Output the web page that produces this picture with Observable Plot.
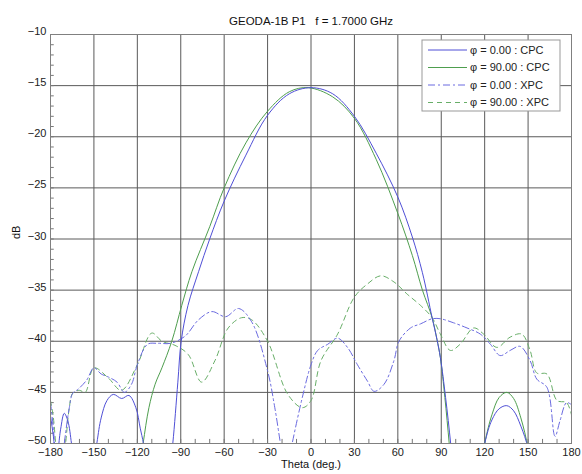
<!DOCTYPE html>
<html>
<head>
<meta charset="utf-8">
<script src="https://cdn.jsdelivr.net/npm/d3@7"></script>
<script src="https://cdn.jsdelivr.net/npm/@observablehq/plot@0.6"></script>
<style>
  body { margin: 0; background: #fff; }
  svg { display: block; }
</style>
</head>
<body>
<div id="chart"></div>
<script>
const chartTitle = "GEODA-1B P1\u00a0\u00a0 f = 1.7000 GHz";
const xLabel = "Theta (deg.)";
const yLabel = "dB";
const xTicks = [-180, -150, -120, -90, -60, -30, 0, 30, 60, 90, 120, 150, 180];
const yTicks = [-50, -45, -40, -35, -30, -25, -20, -15, -10];
const seriesNames = ["\u03c6 = 0.00 : CPC", "\u03c6 = 90.00 : CPC", "\u03c6 = 0.00 : XPC", "\u03c6 = 90.00 : XPC"];

// phi = 0 CPC
const theta0CPC = [-180,-178,-176,-173,-170.5,-168,-165.5,-163,-156,-148,-145,-141,-136.6,-130.8,-125.8,-121,-118,-115.8,-113,-105,-98,-95.5,-92,-89.7,-85,-77.7,-70,-60,-45,-30,-15,0,15,30,45,60,70,77,83.7,87,89.4,93,96.5,99,110,120,125,130,135.3,140,145,150,153,165,180];
const dB0CPC = [-47.3,-49.3,-51.8,-48.6,-47.05,-47.8,-50,-53,-58,-50,-47.5,-45.8,-45.2,-45.6,-45.3,-46.5,-48.5,-50,-53,-58,-53,-50,-44,-40,-36.5,-33.2,-30.0,-26.3,-21.8,-17.9,-15.8,-15.2,-15.8,-18.0,-21.6,-25.9,-29.8,-33.3,-37.7,-39.8,-41.6,-45.5,-50,-54,-58,-50,-47.7,-46.6,-46.3,-46.8,-48.3,-50.5,-54,-58,-58];

// phi = 90 CPC
const theta90CPC = [-180,-130,-119,-116,-112,-107.7,-103,-96.2,-89.3,-82.3,-70,-60,-45,-30,-15,-2,15,30,45,60,70,77,83.7,87,89.4,92.5,95.5,98,110,120,125,130,135.3,140,145,150,153,165,180];
const dB90CPC = [-58,-58,-53,-50,-46.5,-44.2,-42.6,-40,-36.5,-33.2,-28.8,-25,-20.6,-17.5,-15.6,-15.2,-16.1,-18.2,-22.2,-27.5,-31.6,-35,-37.7,-39.8,-41.6,-45.5,-50,-54,-58,-50,-47.2,-45.5,-45.0,-45.6,-47.5,-50.5,-54,-58,-58];

// phi = 0 XPC
const theta0XPC = [-180,-178,-176,-173,-170.5,-167,-164.7,-161,-155,-150,-145,-140,-134,-129,-124,-120,-113,-106,-97,-87,-77.7,-68.5,-59,-50,-41,-30,-25,-20.5,-17,-13,-6,0,4.6,11.5,18.4,25.2,32.1,39,43.6,50.5,57.3,60.8,68.8,75.7,83.7,89.4,98.6,107.8,117,124,130.7,137.6,144.5,151.4,156,163,168.6,172,176.6,180];
const dB0XPC = [-46.0,-48.5,-52,-53,-50,-46.5,-45.1,-44.7,-43.8,-42.6,-43.2,-43.5,-44.0,-45.0,-44.2,-42.3,-40.3,-40.2,-40.2,-39.5,-37.9,-37.1,-37.6,-36.8,-38.1,-42.9,-46.5,-50.5,-53,-50,-45.5,-42.3,-40.9,-40.3,-39.7,-40.6,-42.3,-43.9,-44.9,-44.2,-41.9,-40.0,-38.7,-38.3,-37.8,-37.8,-38.2,-38.7,-39.3,-40.3,-41.4,-40.9,-40.5,-41.9,-43.7,-44.5,-49.3,-47.8,-46,-46.2];

// phi = 90 XPC
const theta90XPC = [-180,-178,-176,-173,-170,-167,-164.7,-160,-156,-150,-140,-131,-120,-110,-103,-94,-84.8,-75.6,-66.4,-57.2,-48,-41,-30,-16,-6,0,6.9,18.4,29.9,39,48.2,57.3,66.5,75.7,83.7,89.4,96.3,103,112.4,119.3,128.4,137.6,145.6,151.4,156,163,170,176.6,180];
const dB90XPC = [-45.8,-47.5,-50.5,-53,-50.5,-46.5,-45.1,-44.8,-45.0,-42.6,-43.6,-44.8,-42.3,-39.2,-40.0,-40.4,-41.3,-44.0,-41.9,-38.7,-37.7,-37.9,-40.0,-45.2,-46.5,-45.8,-41.9,-39.3,-35.7,-34.4,-33.6,-34.2,-35.4,-36.5,-37.7,-39.3,-40.9,-40.3,-38.7,-39.3,-40.6,-39.6,-39.3,-40.9,-43.1,-43.2,-45.8,-46,-47.2];

const styles = [
  {color: "#4f4fd6", dash: null},
  {color: "#4e9e4e", dash: null},
  {color: "#6a6ae0", dash: "7,3,2,3"},
  {color: "#68ae68", dash: "5,4"}
];

const zip = (t, v) => t.map((d, i) => ({theta: d, dB: v[i]}));
const series = [zip(theta0CPC, dB0CPC), zip(theta90CPC, dB90CPC), zip(theta0XPC, dB0XPC), zip(theta90XPC, dB90XPC)];

const gridX = xTicks.slice(1, -1);
const gridY = yTicks.slice(1, -1);
const minorX = d3.range(-170, 180, 10);
const minorY = d3.range(-49, -10, 1);

const lineMark = (i) => Plot.line(series[i], {
  x: "theta", y: "dB", stroke: styles[i].color, strokeWidth: 1,
  strokeDasharray: styles[i].dash, curve: "catmull-rom", clip: true
});

const W = 582, H = 474, mL = 50, mR = 11, mT = 34, mB = 31;

const plot = Plot.plot({
  width: W, height: H,
  marginLeft: mL, marginRight: mR, marginTop: mT, marginBottom: mB,
  style: {fontFamily: "'Liberation Sans', Arial, sans-serif", fontSize: "11px", color: "#222", background: "#fff"},
  x: {domain: [-180, 180]},
  y: {domain: [-50, -10]},
  marks: [
    Plot.ruleX(gridX, {stroke: "#5a5a5a", strokeWidth: 1}),
    Plot.ruleY(gridY, {stroke: "#5a5a5a", strokeWidth: 1}),
    Plot.ruleX(minorX, {y1: -50, y2: -49.6, stroke: "#777"}),
    Plot.ruleY(minorY, {x1: -180, x2: -177.4, stroke: "#777"}),
    lineMark(3), lineMark(2), lineMark(1), lineMark(0),
    Plot.frame({stroke: "#808080"}),
    Plot.axisX({ticks: xTicks, tickSize: 0, tickPadding: 5, label: null, fontSize: 11}),
    Plot.axisY({ticks: yTicks, tickSize: 0, tickPadding: 4, dy: -3, label: null, fontSize: 11}),
    Plot.text([chartTitle], {frameAnchor: "top", dy: -18, fontSize: 11.5, fill: "#111"}),
    Plot.text([xLabel], {frameAnchor: "bottom", dy: 24, fontSize: 11, fill: "#111"}),
    Plot.text([yLabel], {frameAnchor: "left", dx: -34, rotate: -90, fontSize: 11, fill: "#111"})
  ]
});

// Legend box inside the plot, top-right
const svg = d3.select(plot);
const frameRight = W - mR;
const boxW = 138, boxH = 71;
const bx = frameRight - 11 - boxW, by = mT + 6;
const lg = svg.append("g")
  .attr("font-family", "'Liberation Sans', Arial, sans-serif")
  .attr("font-size", 11)
  .attr("text-anchor", "start");
lg.append("rect").attr("x", bx).attr("y", by).attr("width", boxW).attr("height", boxH)
  .attr("fill", "#fff").attr("stroke", "#999");
seriesNames.forEach((name, i) => {
  const yy = by + 10 + i * 17.5;
  lg.append("line").attr("x1", bx + 6).attr("x2", bx + 45).attr("y1", yy).attr("y2", yy)
    .attr("stroke", styles[i].color).attr("stroke-width", 1)
    .attr("stroke-dasharray", styles[i].dash);
  lg.append("text").attr("x", bx + 48).attr("y", yy).attr("dy", "0.35em")
    .attr("text-anchor", "start")
    .attr("fill", "#222").text(name);
});

document.getElementById("chart").appendChild(plot);
</script>
</body>
</html>
